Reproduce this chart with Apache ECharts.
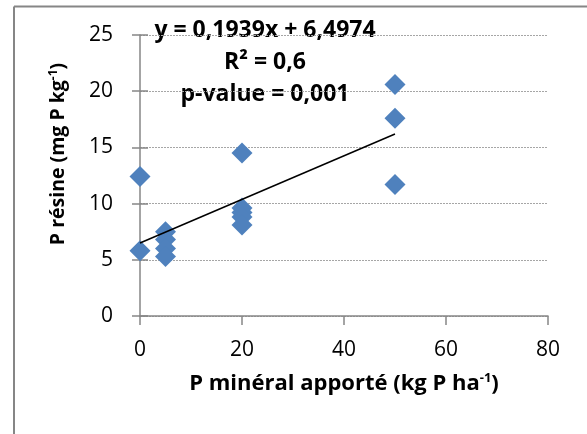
<!DOCTYPE html>
<html><head><meta charset="utf-8">
<script src="https://cdn.jsdelivr.net/npm/echarts@6/dist/echarts.min.js"></script>
<style>html,body{margin:0;padding:0;background:#fff}#c{width:587px;height:434px}</style>
</head><body><div id="c"></div>
<script>
// Data
const xValues = [0, 0, 5, 5, 5, 5, 20, 20, 20, 20, 20, 50, 50, 50];
const yValues = [12.4, 5.8, 7.5, 6.8, 6.0, 5.3, 14.5, 9.6, 9.2, 8.8, 8.1, 20.6, 17.6, 11.7];
const slope = 0.1939;
const intercept = 6.4974;
const trendRange = [0, 50];
const xTicks = [0, 20, 40, 60, 80];
const yTicks = [0, 5, 10, 15, 20, 25];
const annotations = ['y = 0,1939x + 6,4974', 'R² = 0,6', 'p-value = 0,001'];

const pts = xValues.map((x, i) => [x, yValues[i]]);
const trend = trendRange.map(x => [x, intercept + slope * x]);
const FF = '"Open Sans", "Liberation Sans", sans-serif';
const AX = '#868686';
const chart = echarts.init(document.getElementById('c'));
chart.setOption({
  animation: false,
  grid: { left: 140, right: 39, top: 35, bottom: 118 },
  xAxis: {
    type: 'value', min: xTicks[0], max: xTicks[xTicks.length - 1], interval: 20,
    axisLine: { show: true, lineStyle: { color: AX, width: 1.5 } },
    axisTick: { show: true, length: 9, lineStyle: { color: AX, width: 1.5 } },
    splitLine: { show: false },
    axisLabel: { color: '#000', fontSize: 21, fontFamily: FF, margin: 24 },
    name: '{b|P minéral apporté (kg P ha}{s|-1}{b|)}',
    nameLocation: 'middle', nameGap: 56,
    nameTextStyle: { rich: { b: { fontSize: 22, fontWeight: 'bold', fontFamily: FF, color: '#000' }, s: { fontSize: 13, fontWeight: 'bold', fontFamily: FF, color: '#000', padding: [0, 0, 10, 0] } } }
  },
  yAxis: [{
    type: 'value', min: yTicks[0], max: yTicks[yTicks.length - 1], interval: 5,
    axisLine: { show: true, lineStyle: { color: AX, width: 1.5 } },
    axisTick: { show: true, length: 8, inside: false, lineStyle: { color: AX, width: 1.5 } },
    splitLine: { show: true, lineStyle: { color: '#a6a6a6', type: [2, 1], width: 1 } },
    axisLabel: { color: '#000', fontSize: 21, fontFamily: FF, margin: 27 }
  }, {
    type: 'value', position: 'left', min: yTicks[0], max: yTicks[yTicks.length - 1], interval: 5,
    axisLine: { show: false },
    axisTick: { show: true, length: 8, inside: true, lineStyle: { color: AX, width: 1.5 } },
    splitLine: { show: false },
    axisLabel: { show: false }
  }],
  series: [
    { type: 'scatter', data: pts, symbol: 'diamond', symbolSize: 21, itemStyle: { color: '#4F81BD', opacity: 1 }, z: 3 },
    { type: 'line', data: trend, symbol: 'none', lineStyle: { color: '#000', width: 1.5 }, z: 4 }
  ],
  graphic: [
    { type: 'line', shape: { x1: 14, y1: 6.5, x2: 587, y2: 6.5 }, style: { stroke: AX, lineWidth: 2 } },
    { type: 'line', shape: { x1: 14, y1: 6.5, x2: 14, y2: 434 }, style: { stroke: AX, lineWidth: 2 } },
    { type: 'text', x: 58, y: 154, rotation: Math.PI / 2,
      style: { text: '{b|P résine (mg P kg}{s|-1}{b|)}', align: 'center', verticalAlign: 'middle',
        rich: { b: { fontSize: 19.5, fontWeight: 'bold', fontFamily: FF, fill: '#000' }, s: { fontSize: 12, fontWeight: 'bold', fontFamily: FF, fill: '#000', padding: [0, 0, 9, 0] } } } },
    { type: 'text', x: 265, y: 30, style: { text: annotations[0], align: 'center', verticalAlign: 'middle', font: 'bold 23px ' + FF, fill: '#000' } },
    { type: 'text', x: 265, y: 62, style: { text: annotations[1], align: 'center', verticalAlign: 'middle', font: 'bold 23px ' + FF, fill: '#000' } },
    { type: 'text', x: 265, y: 94, style: { text: annotations[2], align: 'center', verticalAlign: 'middle', font: 'bold 23px ' + FF, fill: '#000' } }
  ]
});
</script></body></html>
